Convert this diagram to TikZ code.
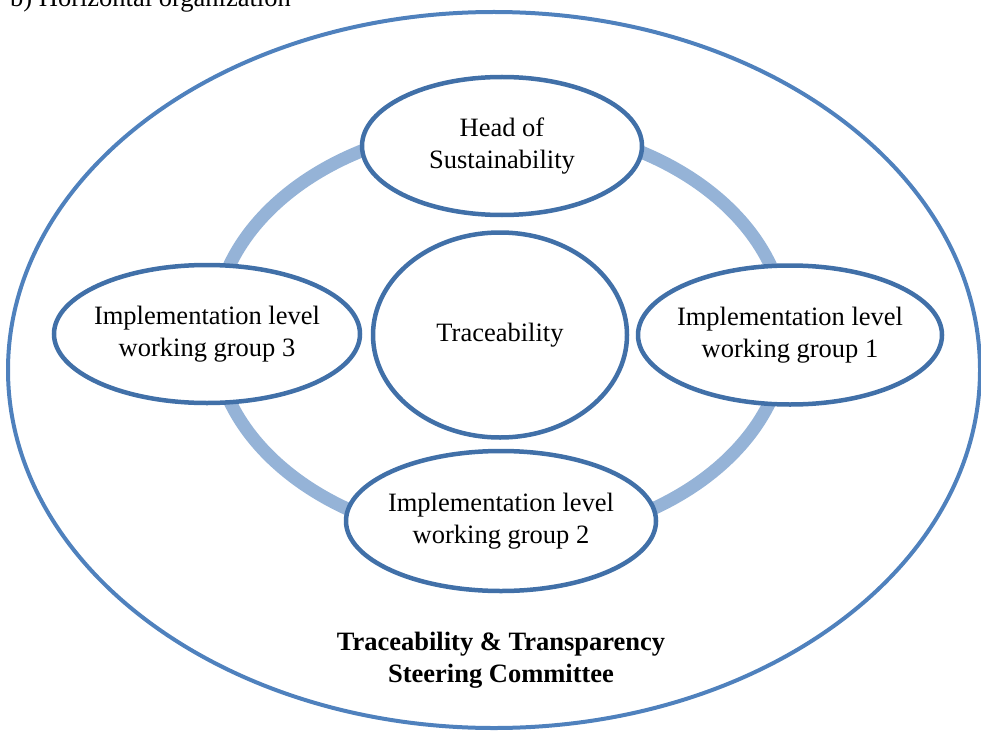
\documentclass[tikz,border=0pt]{standalone}
\usepackage{fontspec}
\setmainfont{Liberation Serif}
\usetikzlibrary{shapes.geometric}
\definecolor{outerblue}{HTML}{4F81BD}
\definecolor{nodeblue}{HTML}{4170A8}
\definecolor{ringblue}{HTML}{95B3D7}
\tikzset{
  bubble/.style={ellipse, draw=nodeblue, line width=4.5pt, fill=white, inner xsep=-10pt, inner ysep=0pt, align=center, font=\fontsize{26.5}{32}\selectfont},
  band/.style={draw=ringblue, line width=13pt}
}
\begin{document}
\begin{tikzpicture}[x=1pt, y=-1pt]
        \useasboundingbox (0,0) rectangle (981,730);
        \coordinate (mid) at (500,333);
        \node[ellipse, draw=outerblue, line width=4pt, minimum width=972pt, minimum height=716pt, inner sep=0pt] (committee) at (494,370) {};
        \draw[band] (mid) ellipse [x radius=286pt, y radius=208pt];
        \node[bubble, minimum width=280pt, minimum height=138pt] (head) at (502,146) {Head of\\Sustainability};
        \node[bubble, minimum width=304pt, minimum height=139pt] (wg1) at (790,335) {Implementation level\\working group 1};
        \node[bubble, minimum width=310pt, minimum height=140pt] (wg2) at (501,521) {Implementation level\\working group 2};
        \node[bubble, minimum width=306pt, minimum height=138pt] (wg3) at (207,334) {Implementation level\\working group 3};
        \node[bubble, minimum width=254pt, minimum height=205pt] (trace) at (500,335) {Traceability};
        \node[align=center, font=\fontsize{26.5}{32}\selectfont\bfseries] (title) at (501,660) {Traceability \& Transparency\\Steering Committee};
        \node[anchor=base west, inner sep=0pt, font=\fontsize{26.5}{32}\selectfont] (caption) at (10,7) {b) Horizontal organization};
    \end{tikzpicture}
\end{document}
